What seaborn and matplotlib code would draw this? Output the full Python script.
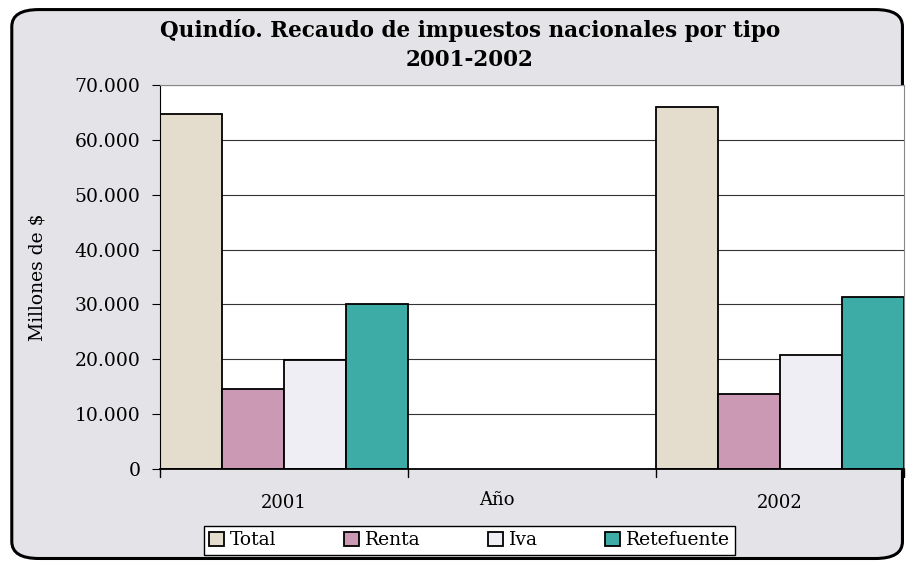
import matplotlib
matplotlib.use("Agg")
import matplotlib.pyplot as plt
import seaborn as sns
import pandas as pd
from matplotlib.patches import FancyBboxPatch, Patch
from matplotlib.ticker import FuncFormatter

# Datos (millones de $)
anios = ["2001", "2002"]
tipos = ["Total", "Renta", "Iva", "Retefuente"]
total = [64800, 66000]
renta = [14600, 13700]
iva = [19900, 20800]
retefuente = [30050, 31350]
colores = ["#e4dccd", "#cc99b4", "#efeef4", "#3eaca6"]

filas = []
for i, a in enumerate(anios):
    for t, serie in zip(tipos, [total, renta, iva, retefuente]):
        filas.append({"Año": a, "Tipo": t, "Valor": serie[i]})
df = pd.DataFrame(filas)

sns.set_style("white")
plt.rcParams["font.family"] = ["DejaVu Serif"]
plt.rcParams["text.color"] = "black"
plt.rcParams["axes.labelcolor"] = "black"
plt.rcParams["xtick.color"] = "black"
plt.rcParams["ytick.color"] = "black"

fig = plt.figure(figsize=(9.07, 5.63), dpi=100)
fig.patch.set_facecolor("white")

# fondo tipo marmol (gris claro) con borde redondeado
fondo = FancyBboxPatch((0.013, 0.008), 0.982, 0.975,
                       boxstyle="round,pad=0,rounding_size=0.03",
                       transform=fig.transFigure, facecolor="#e4e4e8",
                       edgecolor="black", linewidth=2.2, zorder=-10)
fig.patches.append(fondo)

ax = fig.add_axes([0.1764, 0.167, 0.8203, 0.682])
ax.set_zorder(1)
ax.set_facecolor("white")
sns.barplot(data=df, x="Año", y="Valor", hue="Tipo", hue_order=tipos,
            palette=colores, width=0.5, gap=0, saturation=1,
            edgecolor="black", linewidth=1.3, ax=ax, legend=False)

ax.set_xlim(-0.25, 1.25)
ax.set_ylim(0, 70000)
ax.set_yticks(range(0, 70001, 10000))
ax.yaxis.set_major_formatter(FuncFormatter(lambda v, p: f"{int(v):,}".replace(",", ".")))
ax.yaxis.grid(True, color="#333333", linewidth=0.8)
ax.set_axisbelow(True)

ax.set_xticks([0, 1])
ax.set_xticklabels(anios)
ax.tick_params(axis="x", length=0, pad=18, labelsize=13)
ax.tick_params(axis="y", length=6, direction="out", left=True, labelsize=13.5, pad=8)
# marcas entre grupos
for xt in [-0.25, 0.25, 0.75, 1.25]:
    ax.plot([xt, xt], [0, -1400], color="black", lw=1, clip_on=False)

for s in ["top", "right"]:
    ax.spines[s].set_color("#888888")
ax.spines["left"].set_color("black")
ax.spines["bottom"].set_color("black")
ax.spines["bottom"].set_linewidth(1.3)

ax.set_xlabel("")
ax.set_ylabel("Millones de $", fontsize=13.5, labelpad=20)
fig.text(0.548, 0.112, "Año", ha="center", va="center", fontsize=13)

fig.text(0.518, 0.946, "Quindío. Recaudo de impuestos nacionales por tipo",
         ha="center", va="center", fontsize=15.5, fontweight="bold")
fig.text(0.518, 0.893, "2001-2002", ha="center", va="center",
         fontsize=15.5, fontweight="bold")

handles = [Patch(facecolor=c, edgecolor="black", linewidth=1.3) for c in colores]
leg = fig.legend(handles, tipos, loc="center", bbox_to_anchor=(0.5177, 0.04),
                 ncol=4, frameon=True, fancybox=False, fontsize=13.5,
                 framealpha=1, handlelength=0.8, handleheight=0.8,
                 handletextpad=0.3, columnspacing=3.6, borderpad=0.3)
leg.get_frame().set_edgecolor("black")
leg.get_frame().set_facecolor("white")
leg.get_frame().set_linewidth(1.0)

fig.savefig("out.png", dpi=100)
